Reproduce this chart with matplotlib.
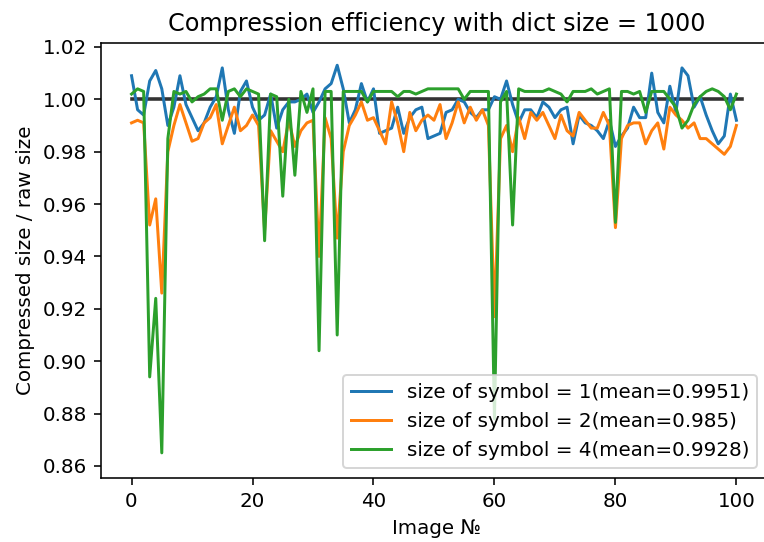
import numpy as np
import matplotlib
matplotlib.use("Agg")
import matplotlib.pyplot as plt

# compressed / raw size per image, for three symbol sizes
size1 = [1.009, 0.996, 0.994, 1.007, 1.011, 1.004, 0.990, 0.997, 1.009, 0.998,
         0.993, 0.988, 0.991, 0.997, 1.001, 1.012, 0.996, 0.987, 1.003, 1.007,
         0.997, 0.992, 0.994, 1.002, 0.989, 0.996, 0.999, 0.999, 1.000, 1.002,
         0.995, 0.999, 1.004, 1.006, 1.013, 1.004, 0.991, 0.996, 1.006, 0.999,
         1.004, 0.987, 0.988, 0.989, 0.997, 0.987, 0.993, 0.996, 0.997, 0.985,
         0.986, 0.987, 0.995, 0.996, 1.000, 0.999, 0.995, 0.993, 0.996, 0.996,
         1.001, 1.000, 1.007, 0.998, 0.991, 0.996, 0.996, 0.993, 0.999, 0.997,
         0.993, 0.996, 0.997, 0.983, 0.994, 0.991, 0.990, 0.988, 0.985, 0.992,
         0.982, 0.986, 0.989, 0.997, 0.993, 0.993, 1.010, 0.995, 0.991, 1.005,
         0.995, 1.012, 1.009, 0.997, 1.001, 0.994, 0.988, 0.983, 0.986, 1.002,
         0.992]
size2 = [0.991, 0.992, 0.991, 0.952, 0.962, 0.926, 0.980, 0.990, 0.998, 0.991,
         0.984, 0.985, 0.991, 0.993, 0.998, 0.983, 0.990, 0.997, 0.988, 0.990,
         0.994, 0.990, 0.950, 0.988, 0.984, 0.980, 0.992, 0.982, 0.988, 0.991,
         0.992, 0.940, 0.993, 0.985, 0.947, 0.980, 0.990, 0.994, 0.999, 0.992,
         0.993, 0.988, 0.983, 0.999, 0.991, 0.980, 0.995, 0.988, 0.992, 0.994,
         0.992, 0.998, 0.985, 0.991, 0.999, 0.991, 0.997, 0.992, 0.996, 0.990,
         0.917, 0.985, 0.990, 0.980, 0.993, 0.985, 0.995, 0.992, 0.995, 0.990,
         0.985, 0.994, 0.988, 0.986, 0.995, 0.992, 0.989, 0.989, 0.995, 0.990,
         0.951, 0.985, 0.990, 0.991, 0.991, 0.983, 0.988, 0.991, 0.981, 0.997,
         0.994, 0.992, 0.989, 0.991, 0.985, 0.985, 0.983, 0.981, 0.979, 0.982,
         0.990]
size4 = [1.002, 1.004, 1.003, 0.894, 0.924, 0.865, 0.985, 1.003, 1.002, 1.003,
         0.999, 1.001, 1.002, 1.004, 1.004, 0.992, 1.003, 1.004, 1.001, 1.004,
         1.003, 1.002, 0.946, 1.002, 1.001, 0.963, 1.000, 0.971, 1.003, 0.995,
         1.004, 0.904, 1.003, 1.003, 0.910, 1.003, 1.003, 1.003, 1.003, 0.999,
         1.003, 1.003, 1.003, 1.003, 1.001, 1.003, 1.003, 1.002, 1.003, 1.004,
         1.004, 1.004, 1.004, 1.004, 1.004, 1.000, 1.003, 1.003, 1.003, 1.003,
         0.878, 0.999, 1.003, 0.952, 1.004, 1.003, 1.003, 1.003, 1.003, 1.004,
         1.003, 1.002, 0.999, 1.003, 1.003, 1.003, 1.004, 1.002, 1.003, 1.004,
         0.953, 1.003, 1.003, 1.002, 1.003, 0.995, 1.003, 1.003, 1.003, 1.000,
         0.997, 0.989, 0.992, 0.998, 1.001, 1.003, 1.004, 1.003, 1.001, 0.996,
         1.002]
labels = ["size of symbol = 1(mean=0.9951)",
          "size of symbol = 2(mean=0.985)",
          "size of symbol = 4(mean=0.9928)"]
baseline_x = [0, 101]
baseline_y = [1.0, 1.0]

DPI = 143
fig = plt.figure(figsize=(764 / DPI, 542 / DPI), dpi=DPI)
# the original picture is cropped on the right, so the axes run past the edge
ax = fig.add_axes([101 / 764, 1 - 478 / 542, 672 / 764, 435 / 542])

ax.plot(baseline_x, baseline_y, color="#333333", linewidth=1.8)
for series, lab in zip([size1, size2, size4], labels):
    ax.plot(np.arange(len(series)), series, label=lab)

ax.set_xlim(-5.05, 106.05)
ax.set_ylim(0.8554, 1.0215)
ax.set_title("Compression efficiency with dict size = 1000")
ax.set_xlabel("Image №")
ax.set_ylabel("Compressed size / raw size")
ax.legend(loc="lower right", bbox_to_anchor=(0.991, 0.0))

fig.savefig("out.png", dpi=DPI)
